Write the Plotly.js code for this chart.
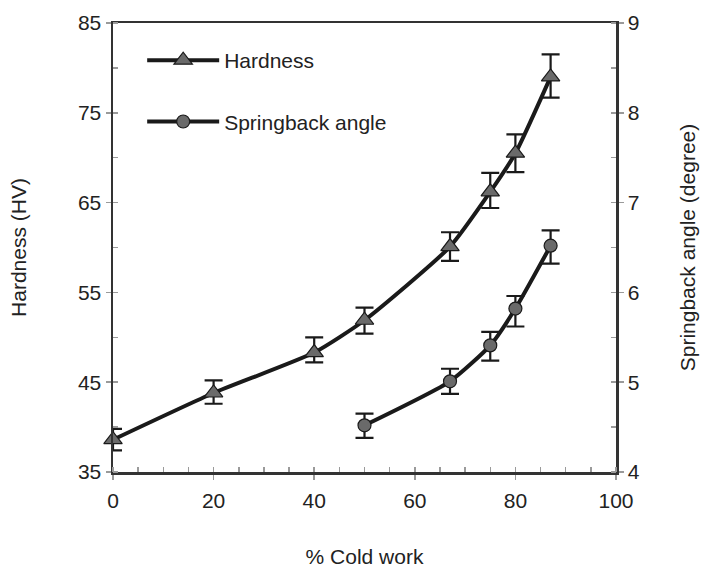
<!DOCTYPE html>
<html>
<head>
<meta charset="utf-8">
<script src="https://cdn.plot.ly/plotly-3.0.1.min.js"></script>
<style>html,body{margin:0;padding:0;background:#fff;}#chart{width:702px;height:568px;}</style>
</head>
<body>
<div id="chart"></div>
<script>
// Data
const coldWorkHardness = [0, 20, 40, 50, 67, 75, 80, 87];
const hardness = [38.6, 43.8, 48.3, 51.9, 60.1, 66.2, 70.5, 79.0];
const hardnessErrPlus = [1.2, 1.4, 1.7, 1.4, 1.6, 2.1, 2.1, 2.5];
const hardnessErrMinus = [1.2, 1.2, 1.1, 1.5, 1.6, 1.8, 2.1, 2.3];

const coldWorkSpring = [50, 67, 75, 80, 87];
const springback = [4.52, 5.01, 5.41, 5.82, 6.52];
const springErrPlus = [0.13, 0.14, 0.15, 0.14, 0.17];
const springErrMinus = [0.14, 0.14, 0.17, 0.20, 0.20];

const xTicks = [0, 20, 40, 60, 80, 100];
const yTicks = [35, 45, 55, 65, 75, 85];
const y2Ticks = [4, 5, 6, 7, 8, 9];

const FONT = 'Liberation Sans, Arial, sans-serif';
const INK = '#1a1a1a';
const MARK = '#6a6a6a';
const TICKC = '#9a9a9a';
const TXT = '#222';

const traces = [
  {
    x: coldWorkHardness, y: hardness, name: 'Hardness', type: 'scatter',
    mode: 'lines+markers', legendgroup: 'a',
    line: {color: INK, width: 4, shape: 'spline', smoothing: 0.55},
    marker: {symbol: 'triangle-up', size: 16, color: MARK, line: {color: INK, width: 1.2}},
    error_y: {type: 'data', symmetric: false, array: hardnessErrPlus, arrayminus: hardnessErrMinus,
              color: INK, thickness: 2.2, width: 9},
    xaxis: 'x', yaxis: 'y', cliponaxis: false
  },
  {
    x: coldWorkSpring, y: springback, name: 'Springback angle', type: 'scatter',
    mode: 'lines+markers', legendgroup: 'b',
    line: {color: INK, width: 4, shape: 'spline', smoothing: 0.55},
    marker: {symbol: 'circle', size: 13, color: MARK, line: {color: INK, width: 1.2}},
    error_y: {type: 'data', symmetric: false, array: springErrPlus, arrayminus: springErrMinus,
              color: INK, thickness: 2.2, width: 9},
    xaxis: 'x', yaxis: 'y2', cliponaxis: false
  }
];

const layout = {
  width: 702, height: 568,
  margin: {l: 113, r: 86, t: 23, b: 96},
  paper_bgcolor: '#fff', plot_bgcolor: '#fff',
  font: {family: FONT, color: TXT, size: 21},
  showlegend: true,
  legend: {
    x: 0.058, y: 0.962, xanchor: 'left', yanchor: 'top',
    bgcolor: 'rgba(0,0,0,0)', borderwidth: 0,
    font: {family: FONT, size: 21, color: TXT},
    traceorder: 'grouped', tracegroupgap: 31, itemwidth: 72
  },
  xaxis: {
    range: [0, 100], tickvals: xTicks, ticktext: xTicks.map(String),
    showgrid: false, zeroline: false,
    showline: true, linecolor: '#333', linewidth: 2.5, mirror: true,
    ticks: 'outside', ticklen: 5, tickwidth: 1.5, tickcolor: TICKC,
    minor: {ticks: 'inside', dtick: 5, tick0: 0, ticklen: 5, tickwidth: 1.5, tickcolor: TICKC, showgrid: false},
    tickfont: {family: FONT, size: 21, color: TXT}, ticklabelstandoff: 3,
    title: {text: '% Cold work', font: {family: FONT, size: 21, color: TXT}, standoff: 40},
    automargin: false
  },
  xaxis2: {
    overlaying: 'x', anchor: 'y', side: 'bottom', range: [0, 100],
    tickvals: xTicks, showticklabels: false, showgrid: false, zeroline: false, showline: false,
    ticks: 'inside', ticklen: 5, tickwidth: 1.5, tickcolor: TICKC
  },
  yaxis: {
    range: [35, 85], tickvals: yTicks, ticktext: yTicks.map(String),
    showgrid: false, zeroline: false,
    showline: true, linecolor: '#333', linewidth: 2.5,
    ticks: 'outside', ticklen: 5, tickwidth: 1.5, tickcolor: TICKC,
    minor: {ticks: 'inside', dtick: 5, tick0: 35, ticklen: 5, tickwidth: 1.5, tickcolor: TICKC, showgrid: false},
    tickfont: {family: FONT, size: 21, color: TXT},
    title: {text: 'Hardness (HV)', font: {family: FONT, size: 21, color: TXT}, standoff: 46},
    automargin: false
  },
  yaxis3: {
    overlaying: 'y', anchor: 'x', side: 'left', range: [35, 85],
    tickvals: yTicks, showticklabels: false, showgrid: false, zeroline: false, showline: false,
    ticks: 'inside', ticklen: 5, tickwidth: 1.5, tickcolor: TICKC
  },
  yaxis2: {
    overlaying: 'y', side: 'right', anchor: 'x', range: [4, 9],
    tickvals: y2Ticks, ticktext: y2Ticks.map(String),
    showgrid: false, zeroline: false,
    showline: true, linecolor: '#333', linewidth: 2.5,
    ticks: 'outside', ticklen: 5, tickwidth: 1.5, tickcolor: TICKC,
    minor: {ticks: 'inside', dtick: 0.5, tick0: 4, ticklen: 5, tickwidth: 1.5, tickcolor: TICKC, showgrid: false},
    tickfont: {family: FONT, size: 21, color: TXT},
    title: {text: 'Springback angle (degree)', font: {family: FONT, size: 21, color: TXT}, standoff: 42},
    automargin: false
  },
  yaxis4: {
    overlaying: 'y', anchor: 'x', side: 'right', range: [4, 9],
    tickvals: y2Ticks, showticklabels: false, showgrid: false, zeroline: false, showline: false,
    ticks: 'inside', ticklen: 5, tickwidth: 1.5, tickcolor: TICKC
  }
};

Plotly.newPlot('chart', traces, layout, {displayModeBar: false, staticPlot: true});
</script>
</body>
</html>
